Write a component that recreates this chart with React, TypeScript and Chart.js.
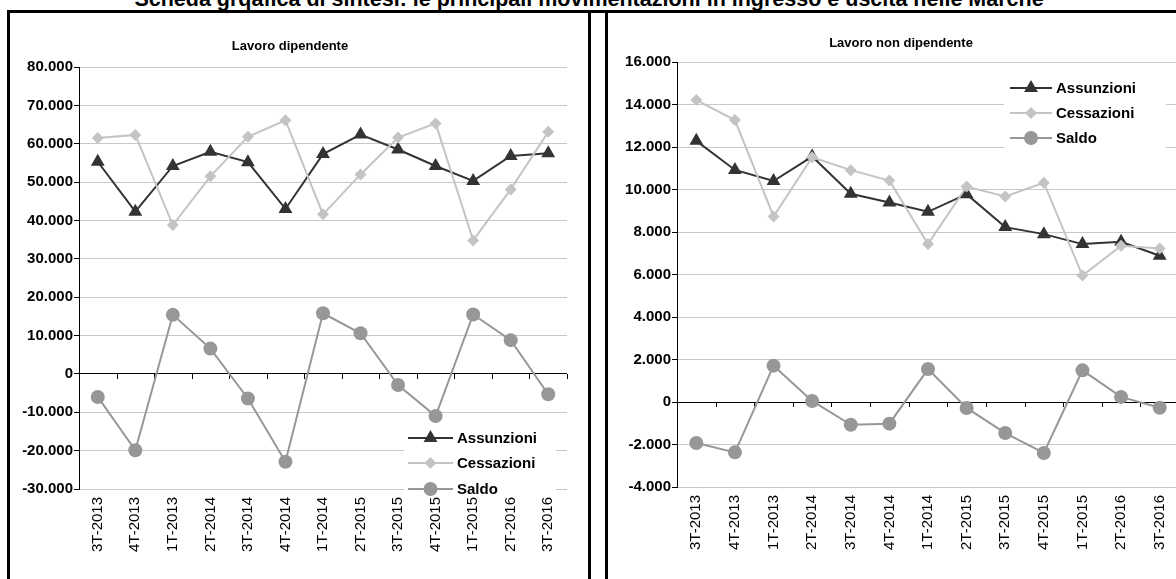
import React, { useEffect, useRef } from "react";
import { Chart, registerables } from "chart.js";

Chart.register(...registerables);

const pageTitle =
  "Scheda grqafica di sintesi: le principali movimentazioni in ingresso e uscita nelle Marche";

const categories = [
  "3T-2013", "4T-2013", "1T-2013", "2T-2014", "3T-2014", "4T-2014", "1T-2014",
  "2T-2015", "3T-2015", "4T-2015", "1T-2015", "2T-2016", "3T-2016",
];

const seriesNames = ["Assunzioni", "Cessazioni", "Saldo"];

// Lavoro dipendente
const depTitle = "Lavoro dipendente";
const depAssunzioni = [55300, 42300, 54200, 57900, 55200, 43000, 57300, 62400, 58500, 54200, 50300, 56800, 57500];
const depCessazioni = [61500, 62300, 38800, 51500, 61800, 66100, 41600, 52000, 61600, 65300, 34800, 48100, 63100];
const depSaldo = [-6000, -19900, 15400, 6600, -6400, -22900, 15800, 10600, -2900, -11000, 15500, 8800, -5300];
const depAxis = { min: -30000, max: 80000, step: 10000 };

// Lavoro non dipendente
const nonDepTitle = "Lavoro non dipendente";
const nonDepAssunzioni = [12290, 10920, 10400, 11550, 9800, 9390, 8950, 9780, 8230, 7900, 7430, 7540, 6880];
const nonDepCessazioni = [14210, 13270, 8730, 11520, 10910, 10420, 7430, 10140, 9670, 10320, 5950, 7350, 7220];
const nonDepSaldo = [-1930, -2370, 1710, 50, -1070, -1020, 1550, -280, -1460, -2400, 1490, 240, -270];
const nonDepAxis = { min: -4000, max: 16000, step: 2000 };

const COLORS = ["#333333", "#c4c4c4", "#979797"];
const STYLES = ["triangle", "rectRot", "circle"] as const;
const RADII = [8, 6, 7];
const FONT = 'Arial, "Liberation Sans", sans-serif';

function fmt(v: number): string {
  if (v === 0) return "0";
  const s = Math.abs(Math.round(v)).toString().replace(/\B(?=(\d{3})+(?!\d))/g, ".");
  return (v < 0 ? "-" : "") + s;
}

function drawMarker(ctx: CanvasRenderingContext2D, style: string, x: number, y: number, r: number, color: string) {
  ctx.save();
  ctx.fillStyle = color;
  ctx.beginPath();
  if (style === "triangle") {
    const w = r * Math.sin(Math.PI / 3);
    ctx.moveTo(x, y - r);
    ctx.lineTo(x + w, y + r / 2);
    ctx.lineTo(x - w, y + r / 2);
  } else if (style === "rectRot") {
    ctx.moveTo(x, y - r);
    ctx.lineTo(x + r, y);
    ctx.lineTo(x, y + r);
    ctx.lineTo(x - r, y);
  } else {
    ctx.arc(x, y, r, 0, Math.PI * 2);
  }
  ctx.closePath();
  ctx.fill();
  ctx.restore();
}

type Layout = {
  width: number;
  height: number;
  area: { left: number; right: number; top: number; bottom: number };
  titleX: number;
  titleY: number;
  legend: { boxX: number; boxY: number; boxW: number; boxH: number; lineX1: number; lineX2: number; textX: number; rows: number[] };
};

function LineChart(props: {
  title: string;
  values: number[][];
  axis: { min: number; max: number; step: number };
  layout: Layout;
}) {
  const ref = useRef<HTMLCanvasElement | null>(null);
  const { title, values, axis, layout } = props;

  useEffect(() => {
    if (!ref.current) return;
    const L = layout;
    const overlay = {
      id: "overlay",
      beforeDatasetsDraw(chart: any) {
        const ctx: CanvasRenderingContext2D = chart.ctx;
        const ca = chart.chartArea;
        const y0 = chart.scales.y.getPixelForValue(0);
        const n = categories.length;
        ctx.save();
        ctx.strokeStyle = "#000";
        ctx.lineWidth = 1;
        ctx.beginPath();
        for (let i = 0; i <= n; i++) {
          const x = Math.round(ca.left + (i * (ca.right - ca.left)) / n) + 0.5;
          ctx.moveTo(x, Math.round(y0));
          ctx.lineTo(x, Math.round(y0) + 5);
        }
        ctx.stroke();
        ctx.restore();
      },
      afterDatasetsDraw(chart: any) {
        const ctx: CanvasRenderingContext2D = chart.ctx;
        ctx.save();
        // title
        ctx.fillStyle = "#000";
        ctx.font = `bold 13px ${FONT}`;
        ctx.textAlign = "center";
        ctx.textBaseline = "middle";
        ctx.fillText(title, L.titleX, L.titleY);
        // legend
        const lg = L.legend;
        ctx.fillStyle = "#fff";
        ctx.fillRect(lg.boxX, lg.boxY, lg.boxW, lg.boxH);
        ctx.font = `bold 15px ${FONT}`;
        ctx.textAlign = "left";
        seriesNames.forEach((name, i) => {
          const y = lg.rows[i];
          ctx.strokeStyle = COLORS[i];
          ctx.lineWidth = 2;
          ctx.beginPath();
          ctx.moveTo(lg.lineX1, y);
          ctx.lineTo(lg.lineX2, y);
          ctx.stroke();
          drawMarker(ctx, STYLES[i], (lg.lineX1 + lg.lineX2) / 2, y, RADII[i], COLORS[i]);
          ctx.fillStyle = "#000";
          ctx.fillText(name, lg.textX, y + 1);
        });
        ctx.restore();
      },
    };

    const chart = new Chart(ref.current, {
      type: "line",
      data: {
        labels: categories,
        datasets: seriesNames.map((name, i) => ({
          label: name,
          data: values[i],
          borderColor: COLORS[i],
          backgroundColor: COLORS[i],
          pointBackgroundColor: COLORS[i],
          pointBorderColor: COLORS[i],
          pointStyle: STYLES[i],
          pointRadius: RADII[i],
          pointBorderWidth: 0,
          borderWidth: 2,
          tension: 0,
          clip: false as any,
          order: 3 - i,
        })),
      },
      options: {
        responsive: false,
        animation: false,
        devicePixelRatio: 1,
        layout: {
          padding: {
            left: 0,
            top: L.area.top,
            right: L.width - L.area.right,
            bottom: 0,
          },
        },
        plugins: {
          legend: { display: false },
          title: { display: false },
          tooltip: { enabled: false },
        },
        scales: {
          x: {
            type: "category",
            offset: true,
            grid: { display: false, drawTicks: false },
            border: { display: false },
            ticks: {
              minRotation: 90,
              maxRotation: 90,
              autoSkip: false,
              padding: 8,
              color: "#000",
              font: { family: FONT, size: 15 },
            },
            afterFit(scale: any) {
              scale.height = L.height - L.area.bottom;
            },
          },
          y: {
            min: axis.min,
            max: axis.max,
            grid: {
              color: (c: any) => (c.tick && c.tick.value === 0 ? "#000000" : "#c8c8c8"),
              tickColor: "#000",
              tickLength: 5,
              lineWidth: 1,
            },
            border: { display: true, color: "#000", width: 1 },
            ticks: {
              stepSize: axis.step,
              padding: 1,
              color: "#000",
              font: { family: FONT, size: 15, weight: "bold" },
              callback: (v: any) => fmt(Number(v)),
            },
            afterFit(scale: any) {
              scale.width = L.area.left;
            },
          },
        },
      },
      plugins: [overlay],
    } as any);
    return () => chart.destroy();
  }, [title, values, axis, layout]);

  return (
    <canvas
      ref={ref}
      width={layout.width}
      height={layout.height}
      style={{ width: layout.width, height: layout.height, display: "block" }}
    />
  );
}

const leftLayout: Layout = {
  width: 578,
  height: 566,
  area: { left: 69, right: 557, top: 54, bottom: 476 },
  titleX: 280,
  titleY: 33,
  legend: { boxX: 394, boxY: 413, boxW: 152, boxH: 70, lineX1: 398, lineX2: 443, textX: 447, rows: [425, 450, 476] },
};

const rightLayout: Layout = {
  width: 592,
  height: 566,
  area: { left: 69, right: 571, top: 49, bottom: 474 },
  titleX: 293,
  titleY: 30,
  legend: { boxX: 396, boxY: 63, boxW: 162, boxH: 75, lineX1: 402, lineX2: 444, textX: 448, rows: [75, 100, 125] },
};

const depValues = [depAssunzioni, depCessazioni, depSaldo];
const nonDepValues = [nonDepAssunzioni, nonDepCessazioni, nonDepSaldo];

export default function App() {
  const bar = (left: number, top: number, width: number, height: number) => (
    <div style={{ position: "absolute", left, top, width, height, background: "#000" }} />
  );
  return (
    <div
      style={{
        position: "fixed",
        left: 0,
        top: 0,
        width: 1176,
        height: 579,
        overflow: "hidden",
        background: "#fff",
      }}
    >
      <div
        style={{
          position: "absolute",
          left: 0,
          top: -11,
          width: 1178,
          textAlign: "center",
          font: `bold 21.5px ${FONT}`,
          lineHeight: "21.5px",
          whiteSpace: "nowrap",
          color: "#000",
        }}
      >
        {pageTitle}
      </div>
      <div style={{ position: "absolute", left: 10, top: 13 }}>
        <LineChart title={depTitle} values={depValues} axis={depAxis} layout={leftLayout} />
      </div>
      <div style={{ position: "absolute", left: 608, top: 13 }}>
        <LineChart title={nonDepTitle} values={nonDepValues} axis={nonDepAxis} layout={rightLayout} />
      </div>
      {bar(7, 10, 1169, 3)}
      {bar(7, 10, 3, 569)}
      {bar(588, 10, 3, 569)}
      {bar(605, 10, 3, 569)}
    </div>
  );
}
